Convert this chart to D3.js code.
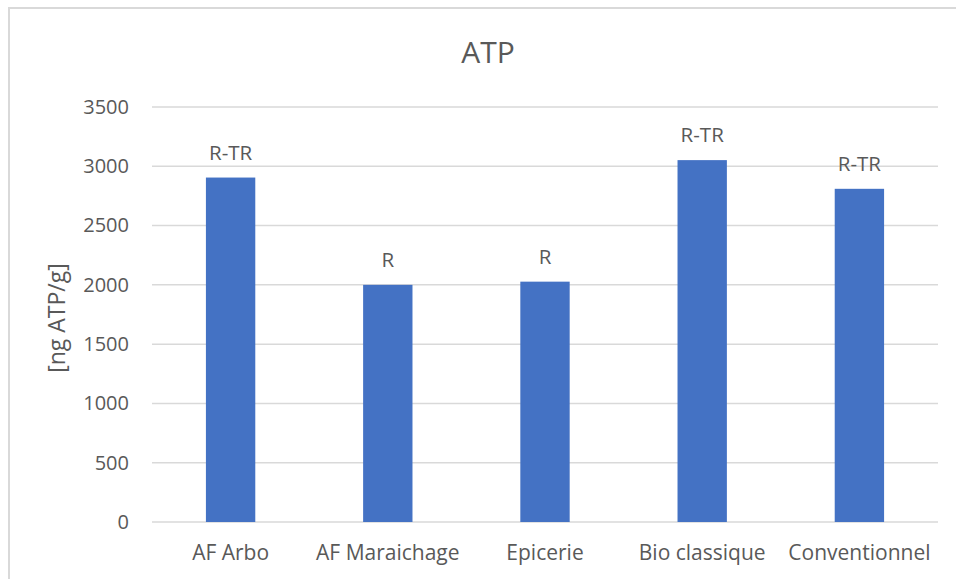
<!DOCTYPE html>
<html>
<head>
<meta charset="utf-8">
<script src="https://cdn.jsdelivr.net/npm/d3@7"></script>
<style>
  body { margin: 0; background: #fff; }
  svg text { font-family: "Segoe UI", "Open Sans", "Noto Sans", sans-serif; fill: #595959; }
</style>
</head>
<body>
<div id="chart"></div>
<script>
// values
const categories = ["AF Arbo", "AF Maraichage", "Epicerie", "Bio classique", "Conventionnel"];
const atpValues = [2905, 2000, 2027, 3052, 2810];
const letters = ["R-TR", "R", "R", "R-TR", "R-TR"];
const yTicks = [0, 500, 1000, 1500, 2000, 2500, 3000, 3500];

const width = 956, height = 579;
const margin = {top: 107, right: 18, bottom: 57, left: 152};
const plotW = width - margin.left - margin.right;
const plotH = height - margin.top - margin.bottom;

const svg = d3.select("#chart").append("svg")
    .attr("width", width)
    .attr("height", height);

// chart frame (only top and left edges visible in the crop)
svg.append("path")
    .attr("d", `M9,${height} L9,8 L${width},8`)
    .attr("fill", "none")
    .attr("stroke", "#d9d9d9")
    .attr("stroke-width", 2);

const g = svg.append("g")
    .attr("transform", `translate(${margin.left}, ${margin.top})`);

const x = d3.scaleBand()
    .domain(categories)
    .range([0, plotW])
    .paddingInner(0.686)
    .paddingOuter(0.343);

const y = d3.scaleLinear()
    .domain([0, 3500])
    .range([plotH, 0]);

// gridlines
g.selectAll(".grid")
    .data(yTicks)
    .enter().append("line")
    .attr("class", "grid")
    .attr("x1", 0)
    .attr("x2", plotW)
    .attr("y1", d => y(d))
    .attr("y2", d => y(d))
    .attr("stroke", "#d9d9d9")
    .attr("stroke-width", 1.5);

// y axis tick labels
const yAxis = d3.axisLeft(y).tickValues(yTicks).tickFormat(d3.format("d")).tickSize(0).tickPadding(23);
g.append("g")
    .call(yAxis)
    .call(a => a.select(".domain").remove())
    .selectAll("text")
    .style("font-size", "20px");

// bars
g.selectAll(".bar")
    .data(atpValues)
    .enter().append("rect")
    .attr("class", "bar")
    .attr("x", (d, i) => x(categories[i]))
    .attr("y", d => y(d))
    .attr("width", x.bandwidth())
    .attr("height", d => plotH - y(d))
    .attr("fill", "#4472c4");

// significance letters above bars
g.selectAll(".letter")
    .data(atpValues)
    .enter().append("text")
    .attr("class", "letter")
    .attr("x", (d, i) => x(categories[i]) + x.bandwidth() / 2)
    .attr("y", d => y(d) - 18)
    .attr("text-anchor", "middle")
    .style("font-size", "20.5px")
    .text((d, i) => letters[i]);

// x axis category labels
const xAxis = d3.axisBottom(x).tickSize(0).tickPadding(23);
g.append("g")
    .attr("transform", `translate(0, ${plotH})`)
    .call(xAxis)
    .call(a => a.select(".domain").remove())
    .selectAll("text")
    .style("font-size", "21px");

// title
svg.append("text")
    .attr("x", 488)
    .attr("y", 63)
    .attr("text-anchor", "middle")
    .style("font-size", "30px")
    .text("ATP");

// y axis title
svg.append("text")
    .attr("transform", "translate(65, 318) rotate(-90)")
    .attr("text-anchor", "middle")
    .style("font-size", "23px")
    .text("[ng ATP/g]");
</script>
</body>
</html>
